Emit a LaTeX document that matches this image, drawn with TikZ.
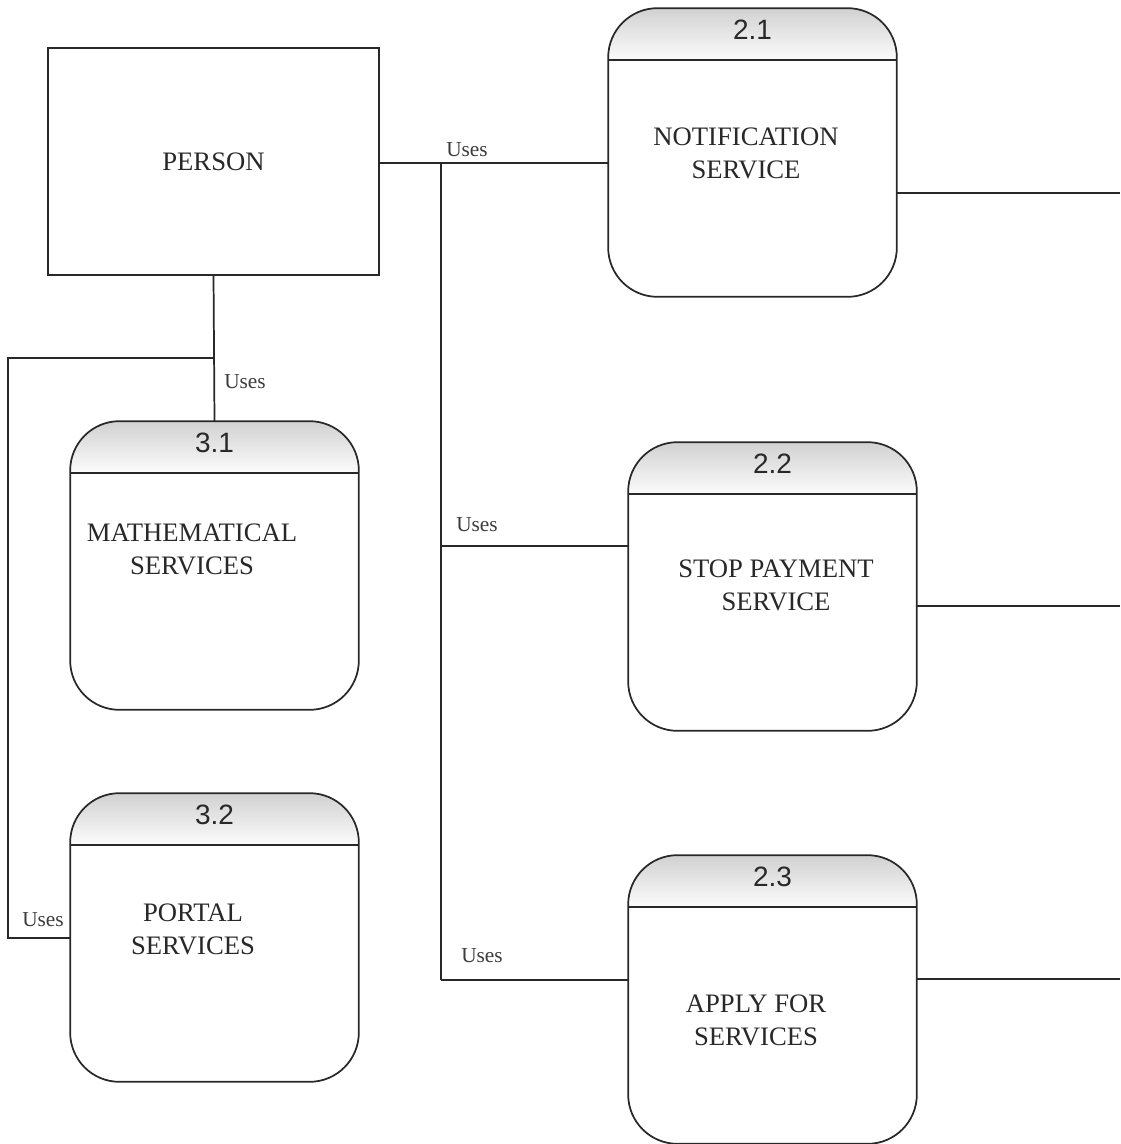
\documentclass[tikz,border=0pt]{standalone}
\usepackage{fontspec}
\setmainfont{Liberation Serif}
\newfontfamily\numfont{Liberation Sans}
\begin{document}
\definecolor{ink}{RGB}{40,40,40}
\begin{tikzpicture}[x=0.75pt,y=-0.75pt,
  link/.style={draw=ink, line width=1.3pt},
  entity/.style={draw=ink, line width=1.3pt, rectangle, inner sep=0pt, outer sep=0pt,
    minimum width=248pt, minimum height=170pt, font=\fontsize{20}{24}\selectfont, text=ink},
  % header band: a vertical gray-to-white gradient built from thin strips
  proc/.style={draw=ink, line width=1.3pt, rectangle, rounded corners=37pt, inner sep=0pt, outer sep=0pt,
    minimum width=216.5pt, minimum height=216.5pt,
    path picture={
      \foreach \i in {0,...,25}{
        \pgfmathsetmacro{\shadeval}{36-1.3*\i}
        \fill[sharp corners, gray!\shadeval]
          ([yshift=-1.5*\i*1pt]path picture bounding box.north west) rectangle
          ([yshift=-1.5*\i*1pt-1.8pt]path picture bounding box.north east);
      }}},
  divider/.style={draw=ink, line width=1.3pt},
  pnum/.style={font=\numfont\fontsize{21}{24}\selectfont, text=ink, inner sep=0pt},
  plabel/.style={font=\fontsize{20}{24.75}\selectfont, text=ink, align=center, inner sep=0pt},
  flow/.style={font=\fontsize{16}{18}\selectfont, text=ink!90, inner sep=0pt}]

% page frame
\fill[white] (0,0) rectangle (1120,1144);
\useasboundingbox (0,0) rectangle (1120,1144);

% external entity
\node[entity] (person) at (213.5,161.5) {PERSON};

% processes
\node[proc] (p21) at (752.5,152.5) {};
\node[proc] (p22) at (772.5,586.5) {};
\node[proc] (p23) at (772.5,999.5) {};
\node[proc] (p31) at (214.5,565.5) {};
\node[proc] (p32) at (214.5,937.5) {};

% header dividers and numbers
\foreach \p/\n in {p21/2.1, p22/2.2, p23/2.3, p31/3.1, p32/3.2}{
  \draw[divider] ([yshift=-39pt]\p.north west) -- ([yshift=-39pt]\p.north east);
  \node[pnum] (\p num) at ([yshift=-16.5pt]\p.north) {\n};
}

% process names
\node[plabel] (l21) at (746,153) {NOTIFICATION\\SERVICE};
\node[plabel] (l22) at (776,585) {STOP PAYMENT\\SERVICE};
\node[plabel] (l23) at (756,1020) {APPLY FOR\\SERVICES};
\node[plabel] (l31) at (192,549.5) {MATHEMATICAL\\SERVICES};
\node[plabel] (l32) at (193,929.5) {PORTAL\\SERVICES};

% bus to the 2.x services
\coordinate (bus) at (441,163);
\coordinate (bus22) at (441,546);
\coordinate (bus23) at (441,980);
\draw[link] (person.east |- bus) -- (bus -| p21.west);
\draw[link] (bus) -- (bus23);
\draw[link] (bus22) -- (bus22 -| p22.west);
\draw[link] (bus23) -- (bus23 -| p23.west);

% outgoing flows on the right
\coordinate (o21) at (1120,193);
\coordinate (o22) at (1120,606);
\coordinate (o23) at (1120,979);
\draw[link] (o21 -| p21.east) -- (o21);
\draw[link] (o22 -| p22.east) -- (o22);
\draw[link] (o23 -| p23.east) -- (o23);

% links to the 3.x services
\coordinate (split) at (214,358);
\coordinate (lc) at (8,358);
\coordinate (lb) at (8,938);
\draw[link] (person.south) -- (p31.north);
\draw[link] (split) -- (lc) -- (lb) -- (lb -| p32.west);

% flow labels
\node[flow] (u1) at (467,150) {Uses};
\node[flow] (u2) at (477,525) {Uses};
\node[flow] (u3) at (482,956) {Uses};
\node[flow] (u4) at (245,382) {Uses};
\node[flow] (u5) at (43,920) {Uses};
\end{tikzpicture}
\end{document}
